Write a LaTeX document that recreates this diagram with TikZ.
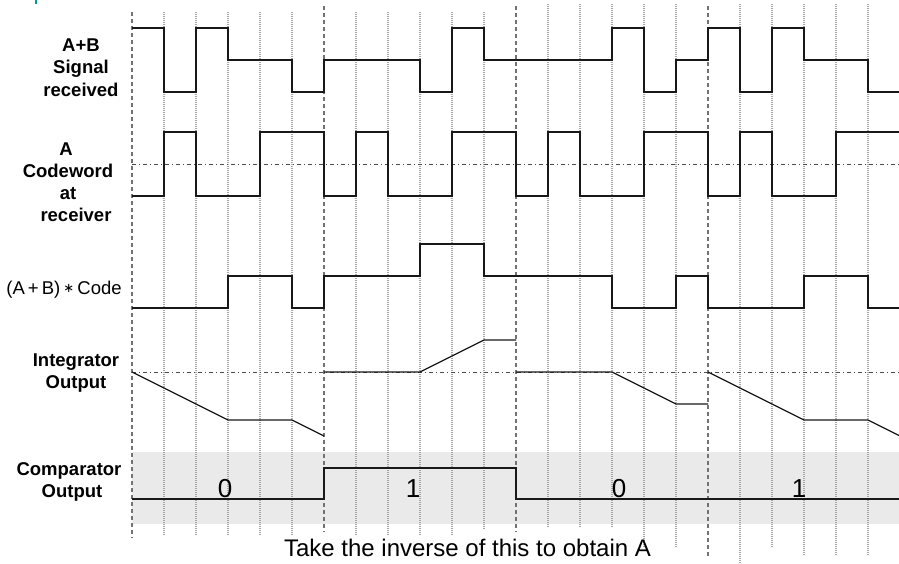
\documentclass[tikz,border=0pt]{standalone}
\usepackage{fontspec}
\setmainfont{Liberation Sans}
\newfontfamily\symfont{DejaVu Sans}
\definecolor{bandgray}{HTML}{EAEAEA}
\definecolor{tealmark}{HTML}{009C9C}
\tikzset{
  chipline/.style={draw=black!35, line width=1.2pt, dash pattern=on 1pt off 1pt},
  majorline/.style={draw=black!55, line width=1.6pt, dash pattern=on 4pt off 3pt},
  refline/.style={draw=black!70, line width=0.8pt, dash pattern=on 4pt off 3pt on 1pt off 3pt},
  wave/.style={draw=black!90, line width=1.2pt, line join=miter},
  lbl/.style={font=\fontsize{18.5}{22}\selectfont\bfseries, anchor=base, inner sep=0pt},
  plainlbl/.style={font=\fontsize{18.5}{22}\selectfont, anchor=base, inner sep=0pt},
  big/.style={font=\fontsize{24}{28}\selectfont, anchor=base, inner sep=0pt},
  bitlbl/.style={font=\fontsize{26}{30}\selectfont, anchor=base, inner sep=0pt},
}
\begin{document}
\begin{tikzpicture}[x=1pt,y=-1pt]
\useasboundingbox (0,0) rectangle (899,563);
% small teal mark
\draw[tealmark, line width=2pt] (36,0) -- (36,4);
% comparator band
\fill[bandgray] (132,452) rectangle (899,524);
% chip grid lines
\foreach \x in {164,196,228,260,292,356,388,420,452}
  \draw[chipline] (\x,12) -- (\x,536);
\draw[chipline] (484,12) -- (484,530);
\foreach \x in {548,580,612}
  \draw[chipline] (\x,4) -- (\x,528);
\foreach \x in {644,676,772}
  \draw[chipline] (\x,4) -- (\x,547);
\draw[chipline] (740,4) -- (740,563);
\foreach \x in {804,836,868}
  \draw[chipline] (\x,4) -- (\x,555);
% bit boundaries
\draw[majorline] (132,12) -- (132,538);
\draw[majorline] (324,6) -- (324,532);
\draw[majorline] (516,6) -- (516,532);
\draw[majorline] (708,6) -- (708,557);
% reference lines
\draw[refline] (132,164) -- (899,164);
\draw[refline] (132,372) -- (899,372);
% A+B signal received
\draw[wave] (132,28) -- (164,28) -- (164,92) -- (196,92) -- (196,28) -- (228,28) -- (228,60) -- (292,60) -- (292,92) -- (324,92) -- (324,60) -- (420,60) -- (420,92) -- (452,92) -- (452,28) -- (484,28) -- (484,60) -- (612,60) -- (612,28) -- (644,28) -- (644,92) -- (676,92) -- (676,60) -- (708,60) -- (708,28) -- (740,28) -- (740,92) -- (772,92) -- (772,28) -- (804,28) -- (804,60) -- (868,60) -- (868,92) -- (899,92);
% A codeword
\draw[wave] (132,196) -- (164,196) -- (164,132) -- (196,132) -- (196,196) -- (260,196) -- (260,132) -- (324,132) -- (324,196) -- (356,196) -- (356,132) -- (388,132) -- (388,196) -- (452,196) -- (452,132) -- (516,132) -- (516,196) -- (548,196) -- (548,132) -- (580,132) -- (580,196) -- (644,196) -- (644,132) -- (708,132) -- (708,196) -- (740,196) -- (740,132) -- (772,132) -- (772,196) -- (836,196) -- (836,132) -- (899,132);
% (A+B)*Code
\draw[wave] (132,308) -- (228,308) -- (228,276) -- (292,276) -- (292,308) -- (324,308) -- (324,276) -- (420,276) -- (420,244) -- (484,244) -- (484,276) -- (612,276) -- (612,308) -- (676,308) -- (676,276) -- (708,276) -- (708,308) -- (804,308) -- (804,276) -- (868,276) -- (868,308) -- (899,308);
% integrator output
\draw[wave] (132,372) -- (228,420) -- (292,420) -- (324,436);
\draw[wave] (324,372) -- (420,372) -- (484,340) -- (516,340);
\draw[wave] (516,372) -- (612,372) -- (676,404) -- (708,404);
\draw[wave] (708,372) -- (804,420) -- (868,420) -- (899,435.5);
% comparator output
\draw[wave] (132,499) -- (324,499) -- (324,468) -- (516,468) -- (516,499) -- (899,499);
% labels
\node[lbl] (ab1) at (81,51) {A+B};
\node[lbl] (ab2) at (81,73) {Signal};
\node[lbl] (ab3) at (81,96) {received};
\node[lbl] (cw1) at (66,155) {A};
\node[lbl] (cw2) at (68,177) {Codeword};
\node[lbl] (cw3) at (68,199) {at};
\node[lbl] (cw4) at (76,221) {receiver};
\node[plainlbl] (prod) at (64,294) {(A\,+\,B)\,\raisebox{1.5pt}{\fontsize{13}{13}\selectfont\symfont ∗}\,Code};
\node[lbl] (int1) at (76,366) {Integrator};
\node[lbl] (int2) at (76,388) {Output};
\node[lbl] (cmp1) at (69,475) {Comparator};
\node[lbl] (cmp2) at (72,497) {Output};
\node[bitlbl] (bit1) at (225,497) {0};
\node[bitlbl] (bit2) at (413,497) {1};
\node[bitlbl] (bit3) at (619,497) {0};
\node[bitlbl] (bit4) at (799,497) {1};
\node[big] (note) at (467.5,556.5) {Take the inverse of this to obtain A};
\end{tikzpicture}
\end{document}
